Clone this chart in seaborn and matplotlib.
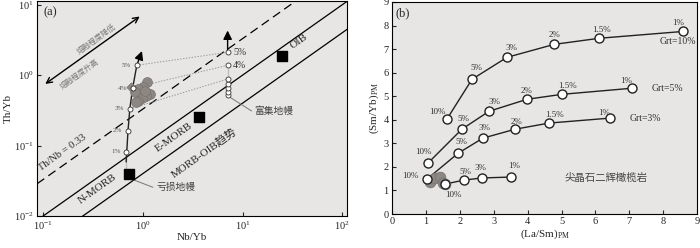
import matplotlib
matplotlib.use('Agg')
import matplotlib.pyplot as plt
import seaborn as sns
import numpy as np

# ---------------- panel (a) data: Th/Yb vs Nb/Yb ----------------
ref_ratios = [0.33, 0.1, 0.04]          # Th/Nb reference lines
ref_styles = [(0, (7, 4)), '-', '-']

# melting curve from depleted mantle
dep_nb = [0.68, 0.68, 0.71, 0.74, 0.79, 0.87]
dep_th = [0.042, 0.082, 0.163, 0.332, 0.656, 1.38]
dep_pct = ['', '1%', '2%', '3%', '4%', '5%']
dep_tip = [0.98, 2.2]

# melting curve from enriched mantle
enr_nb = [7.08, 7.08, 7.08, 7.08, 7.08, 7.08, 7.08]
enr_th = [0.52, 0.577, 0.656, 0.746, 0.88, 1.38, 2.11]
enr_pct = ['', '', '', '', '', '4%', '5%']
enr_tip = [7.08, 4.3]

# end-member reservoirs (depleted mantle, E-MORB, OIB)
res_nb = [0.72, 3.63, 25.1]
res_th = [0.039, 0.256, 1.9]

# samples
smp_nb = [1.10, 1.00, 0.89, 0.83, 1.17, 1.07, 0.98, 0.89, 0.85, 1.05]
smp_th = [0.80, 0.68, 0.635, 0.577, 0.54, 0.506, 0.474, 0.43, 0.417, 0.596]
smp_diamond = [0.76, 0.68]

# ---------------- panel (b) data: (Sm/Yb)PM vs (La/Sm)PM ----------------
curve_names = ['Grt=10%', 'Grt=5%', 'Grt=3%', '']
curve_pct = [
    ['10%', '5%', '3%', '2%', '1.5%', '1%'],
    ['10%', '5%', '3%', '2%', '1.5%', '1%'],
    ['10%', '5%', '3%', '2%', '1.5%', '1%'],
    ['10%', '5%', '3%', '1%'],
]
curve_lasm = [
    [1.62, 2.36, 3.39, 4.78, 6.11, 8.59],
    [1.06, 2.06, 2.86, 3.98, 5.01, 7.08],
    [1.03, 1.95, 2.68, 3.63, 4.63, 6.42],
    [1.56, 2.12, 2.65, 3.51],
]
curve_smyb = [
    [4.03, 5.72, 6.65, 7.20, 7.46, 7.75],
    [2.16, 3.60, 4.36, 4.87, 5.08, 5.34],
    [1.48, 2.58, 3.22, 3.60, 3.86, 4.07],
    [1.27, 1.44, 1.53, 1.57],
]
smp_lasm = [1.12, 1.27, 1.42, 1.50, 1.56]
smp_smyb = [1.36, 1.53, 1.57, 1.31, 1.27]

# label offsets (points) for panel (b)
curve_offsets = [
    [(-7, 5), (3, 8), (3, 7), (0, 7), (2, 6), (-4, 6)],
    [(-3, 8), (1, 7), (4, 7), (0, 6), (4, 6), (-4, 5)],
    [(-12, 2), (2, 8), (1, 7), (1, 5), (4, 6), (-4, 4)],
    [(6, -8), (1, 6), (-1, 7), (2, 8)],
]
name_offsets = [(-4, -7), (14, 0), (14, 0), (0, 0)]
name_ha = ['center', 'left', 'left', 'left']

BG = '#e7e6e4'
sns.set_style('ticks', {'axes.facecolor': BG, 'axes.edgecolor': 'black'})
plt.rcParams['font.family'] = ['Liberation Serif', 'Noto Sans CJK SC']
plt.rcParams['mathtext.fontset'] = 'custom'
plt.rcParams['mathtext.rm'] = 'Liberation Serif'
plt.rcParams['mathtext.it'] = 'Liberation Serif:italic'
CJK = ['Noto Sans CJK SC']

fig = plt.figure(figsize=(7, 2.48), dpi=100)
ax1 = fig.add_axes([0.053, 0.129, 0.443, 0.866])
ax2 = fig.add_axes([0.560, 0.137, 0.436, 0.855])

# ---------- (a) ----------
ax1.set_xscale('log')
ax1.set_yscale('log')
xlim = (0.087, 112)
ylim = (0.01, 11.2)
ax1.set_xlim(xlim)
ax1.set_ylim(ylim)

xs = np.array(xlim)
for k, ls in zip(ref_ratios, ref_styles):
    ax1.plot(xs, k * xs, color='black', lw=0.9, linestyle=ls)

# dotted tie-lines between equal melting degrees
for i, j in [(5, 6), (4, 5), (3, 4)]:
    ax1.plot([dep_nb[i], enr_nb[j]], [dep_th[i], enr_th[j]],
             color='#9a9a9a', lw=0.7, linestyle=(0, (1.5, 1.5)))

# samples
sns.scatterplot(x=smp_nb, y=smp_th, ax=ax1, s=50, color='#8d8783',
                edgecolor='#77716d', linewidth=0.5, zorder=4)
ax1.scatter([smp_diamond[0]], [smp_diamond[1]], marker='D', s=22,
            color='#8d8783', edgecolor='#77716d', linewidth=0.5, zorder=4)

# melting curves
sns.lineplot(x=dep_nb, y=dep_th, ax=ax1, sort=False, color='#222222', lw=1.0, zorder=3)
sns.lineplot(x=enr_nb, y=enr_th, ax=ax1, sort=False, color='#222222', lw=1.0, zorder=3)
ax1.annotate('', xy=dep_tip, xytext=(dep_nb[-1], dep_th[-1]),
             arrowprops=dict(arrowstyle='-|>', color='black', lw=1.0,
                             mutation_scale=13, shrinkA=0, shrinkB=0), zorder=3)
ax1.annotate('', xy=enr_tip, xytext=(enr_nb[-1], enr_th[-1]),
             arrowprops=dict(arrowstyle='-|>', color='black', lw=1.0,
                             mutation_scale=13, shrinkA=0, shrinkB=0), zorder=3)
ax1.plot(dep_nb[1:], dep_th[1:], 'o', ms=3.6, mfc='white', mec='#333333', mew=0.6, zorder=5)
ax1.plot(enr_nb, enr_th, 'o', ms=3.6, mfc='white', mec='#333333', mew=0.6, zorder=5)
for x, y, t in zip(dep_nb, dep_th, dep_pct):
    if t:
        ax1.annotate(t, (x, y), xytext=(-4, 0), textcoords='offset points',
                     ha='right', va='center', fontsize=5, color='#555555')
for x, y, t in zip(enr_nb, enr_th, enr_pct):
    if t:
        ax1.annotate(t, (x, y), xytext=(4, 0), textcoords='offset points',
                     ha='left', va='center', fontsize=7, color='#333333')

# reservoirs
ax1.scatter(res_nb, res_th, marker='s', s=55, color='black', zorder=6)

# leaders and labels
ax1.plot([0.79, 1.26], [0.033, 0.0256], color='#777777', lw=0.7)
ax1.text(1.36, 0.0256, '亏损地幔', family=CJK, fontsize=7, color='#444444',
         ha='left', va='center')
ax1.plot([7.08, 12.3], [0.51, 0.31], color='#777777', lw=0.7)
ax1.text(13.2, 0.31, '富集地幔', family=CJK, fontsize=7, color='#444444',
         ha='left', va='center')

rot = 35.5
ax1.text(37, 3.0, 'OIB', fontsize=8, rotation=rot, ha='center', va='center')
ax1.text(2.04, 0.13, 'E-MORB', fontsize=8, rotation=rot, ha='center', va='center')
ax1.text(0.347, 0.024, 'N-MORB', fontsize=8, rotation=rot, ha='center', va='center')
ax1.text(4.11, 0.079, 'MORB-OIB趋势', fontsize=8, rotation=rot, ha='center', va='center')
ax1.text(0.155, 0.080, 'Th/Nb = 0.33', fontsize=7.5, rotation=rot, ha='center', va='center')

ax1.annotate('', xy=(0.93, 6.8), xytext=(0.105, 0.75),
             arrowprops=dict(arrowstyle='<->', color='black', lw=1.0,
                             mutation_scale=10, shrinkA=0, shrinkB=0))
ax1.text(0.347, 3.2, '熔融程度降低', family=CJK, fontsize=5.5, color='#777777',
         rotation=rot, ha='center', va='center')
ax1.text(0.234, 1.03, '熔融程度升高', family=CJK, fontsize=5.5, color='#777777',
         rotation=rot, ha='center', va='center')

ax1.text(0.02, 0.95, '(a)', transform=ax1.transAxes, fontsize=9, ha='left', va='center')
ax1.set_xticks([0.1, 1, 10, 100])
ax1.set_yticks([0.01, 0.1, 1, 10])
ax1.minorticks_off()
ax1.set_xlabel('Nb/Yb', fontsize=8, labelpad=0.5)
ax1.set_ylabel('Th/Yb', fontsize=8, labelpad=1)

# ---------- (b) ----------
ax2.set_xlim(0, 9)
ax2.set_ylim(0, 9)
sns.scatterplot(x=smp_lasm, y=smp_smyb, ax=ax2, s=60, color='#8d8783',
                edgecolor='#77716d', linewidth=0.5, zorder=4)
for i in range(len(curve_lasm)):
    sns.lineplot(x=curve_lasm[i], y=curve_smyb[i], ax=ax2, sort=False,
                 color='#222222', lw=1.0, zorder=3)
    ax2.plot(curve_lasm[i], curve_smyb[i], 'o', ms=6.5, mfc='white',
             mec='#222222', mew=1.0, zorder=5)
    for x, y, t, off in zip(curve_lasm[i], curve_smyb[i], curve_pct[i], curve_offsets[i]):
        ax2.annotate(t, (x, y), xytext=off, textcoords='offset points',
                     ha='center', va='center', fontsize=6.5, color='#333333', zorder=6)
    if curve_names[i]:
        ax2.annotate(curve_names[i], (curve_lasm[i][-1], curve_smyb[i][-1]),
                     xytext=name_offsets[i], textcoords='offset points',
                     ha=name_ha[i], va='center', fontsize=7, color='#333333')

ax2.text(6.3, 1.55, '尖晶石二辉橄榄岩', family=CJK, fontsize=7.5, color='#444444',
         ha='center', va='center')
ax2.text(0.012, 0.948, '(b)', transform=ax2.transAxes, fontsize=9, ha='left', va='center')
ax2.set_xticks(range(0, 10))
ax2.set_yticks(range(0, 10))
ax2.set_xlabel(r'(La/Sm)$_{\mathrm{PM}}$', fontsize=8, labelpad=0.5)
ax2.set_ylabel(r'(Sm/Yb)$_{\mathrm{PM}}$', fontsize=8, labelpad=2)

for ax in (ax1, ax2):
    ax.tick_params(which='both', direction='in', length=3, width=0.8,
                   labelsize=7.5, pad=2.5, top=False, right=False)
    for sp in ax.spines.values():
        sp.set_linewidth(0.8)
        sp.set_visible(True)
    ax.grid(False)

fig.savefig('out.png', dpi=100)
